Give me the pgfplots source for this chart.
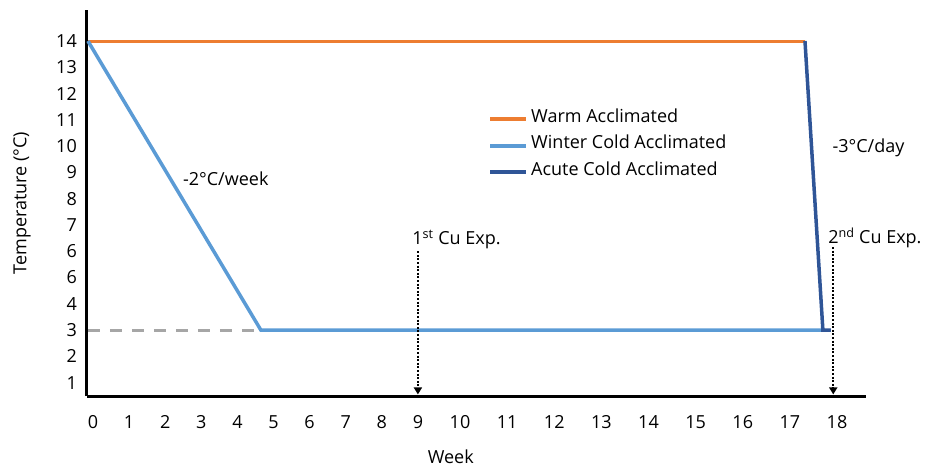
\documentclass[border=0pt]{standalone}
\usepackage{fontspec}
\setmainfont{Open Sans}
\usepackage{pgfplots}
\pgfplotsset{compat=1.18}
\usetikzlibrary{arrows.meta}
\definecolor{warm}{HTML}{ED7D31}
\definecolor{winter}{HTML}{5B9BD5}
\definecolor{acute}{HTML}{2F5597}
\definecolor{dashgray}{HTML}{A6A6A6}
\begin{document}
\fontsize{18pt}{21pt}\selectfont
\begin{tikzpicture}
\useasboundingbox (-87pt,-71pt) rectangle (838pt,396pt);
\begin{axis}[
  scale only axis,
  width=779pt, height=386pt,
  clip=false,
  x coord trafo/.code={\pgfmathparse{(#1<=9) ? (93+36.1*(#1)) : ((#1<=10) ? (418+42*((#1)-9)) : (460+47.125*((#1)-10)))}},
  xmin=-0.166, xmax=18.615,
  ymin=0.49, ymax=15.18,
  axis x line=bottom, axis y line=left,
  axis line style={-, line width=3pt, black},
  major tick length=0pt,
  xtick={0,1,2,3,4,5,6,7,8,9,10,11,12,13,14,15,16,17,18},
  xticklabels={0,1,2,3,4,5,6,7,8,9,10,11,12,13,14,15,16,17,18},
  ytick={1,2,3,4,5,6,7,8,9,10,11,12,13,14},
  yticklabels={1,2,3,4,6,6,7,8,9,10,11,12,13,14},
  xticklabel style={anchor=north, inner sep=0pt, yshift=-19pt},
  yticklabel style={anchor=east, inner sep=0pt, xshift=-10pt},
  xlabel={Week},
  ylabel={Temperature (°C)},
  every axis x label/.style={at={(rel axis cs:0.467,0)}, anchor=center, inner sep=0pt, yshift=-61pt},
  every axis y label/.style={at={(rel axis cs:0,0.5)}, xshift=-65pt, anchor=center, inner sep=0pt, rotate=90},
  legend image code/.code={\draw[#1, line width=4pt] (0pt,0pt) -- (36pt,0pt);},
  legend cell align=left,
  legend style={at={(rel axis cs:0.5148,0.7513)}, anchor=north west, draw=none, fill=none,
    inner sep=0pt, row sep=0pt,
    nodes={inner xsep=0pt, inner ysep=0pt, text height=16pt, text depth=10.5pt},
    /tikz/every odd column/.append style={column sep=3pt}},
]
\addplot[dashgray, line width=3pt, dash pattern=on 12pt off 10pt, forget plot] coordinates {(-0.14,3) (4.49,3)};
\addplot[warm, line width=3pt] coordinates {(-0.14,14) (17.32,14)};
\addlegendentry{Warm Acclimated}
\addplot[winter, line width=3.5pt] coordinates {(-0.14,14) (4.65,3) (17.7,3)};
\addlegendentry{Winter Cold Acclimated}
\addplot[acute, line width=3.5pt] coordinates {(17.32,14) (17.7,3) (17.87,3)};
\addlegendentry{Acute Cold Acclimated}
\addplot[black, line width=2pt, dash pattern=on 2pt off 1.6pt, -{Triangle[width=8pt,length=7pt]}, forget plot] coordinates {(9,6.0) (9,0.55)};
\addplot[black, line width=2pt, dash pattern=on 2pt off 1.6pt, -{Triangle[width=8pt,length=7pt]}, forget plot] coordinates {(17.92,6.16) (17.92,0.55)};
\node[anchor=base west, inner sep=0pt] at (axis cs:8.84,6.24) {1\textsuperscript{st} Cu Exp.};
\node[anchor=base west, inner sep=0pt] at (axis cs:17.81,6.28) {2\textsuperscript{nd} Cu Exp.};
\node[anchor=base west, inner sep=0pt] at (axis cs:17.9,9.74) {-3°C/day};
\node[anchor=base west, inner sep=0pt] at (axis cs:2.49,8.52) {-2°C/week};
\end{axis}
\end{tikzpicture}
\end{document}
